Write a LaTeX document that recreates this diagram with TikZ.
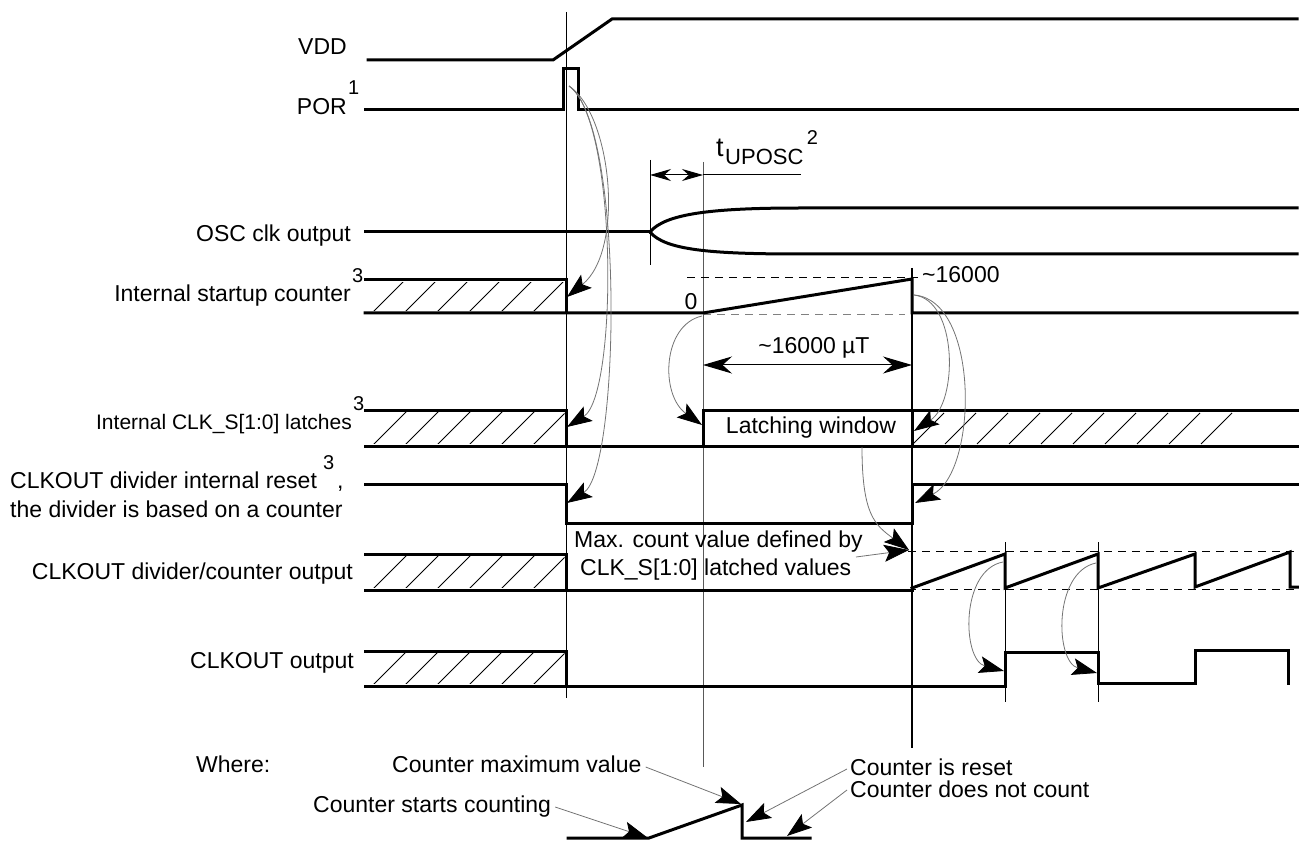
\documentclass[tikz,border=0pt]{standalone}
\usepackage{fontspec}
\setmainfont{Liberation Sans}
\usetikzlibrary{arrows.meta}
\newcommand{\hatchleft}[2]{%
  \begin{scope}
    \clip (365,#1+2.5) rectangle (564.5,#2-2.5);
    \foreach \xx in {372,404,...,565} { \draw[hat] (\xx,#2) -- ++(#2-#1,#1-#2); }
  \end{scope}}
\begin{document}
\begin{tikzpicture}[x=1pt,y=-1pt,
  sig/.style={line width=3pt, line join=miter, line cap=rect},
  refl/.style={line width=1pt},
  grefl/.style={line width=1pt, draw=black!65},
  dsh/.style={line width=1pt, dash pattern=on 8pt off 6pt},
  gdsh/.style={line width=1pt, draw=black!50, dash pattern=on 8pt off 6pt},
  hat/.style={line width=1pt},
  garrow/.style={draw=black!55, line width=0.8pt, -{Stealth[length=25pt,width=17pt,inset=5pt,color=black]}},
  lbl/.style={font=\fontsize{23}{27}\selectfont, inner sep=0pt},
  lbls/.style={font=\fontsize{21}{25}\selectfont, inner sep=0pt},
  supl/.style={font=\fontsize{20}{24}\selectfont, inner sep=0pt},
]
\useasboundingbox (0,0) rectangle (1299,842);

% ---------- reference verticals ----------
\draw[refl] (566,12) -- (566,698);
\draw[grefl] (703,162) -- (703,767);
\draw[line width=2pt] (912,268) -- (912,748);
\draw[refl] (650,160) -- (650,265);
\draw[refl] (1005,542) -- (1005,702);
\draw[refl] (1098,542) -- (1098,702);

% ---------- dashed guides ----------
\draw[dsh] (687,278) -- (918,278);
\draw[gdsh] (703,315) -- (905,315);
\draw[dsh] (908,551) -- (1299,551);
\draw[dsh] (908,589) -- (1299,589);

% ---------- hatching ----------
\hatchleft{280}{313}
\hatchleft{410}{446}
\hatchleft{554}{590}
\hatchleft{651}{686}
\foreach \xx in {913,945,...,1205} { \draw[hat] (\xx,444) -- ++(31,-31); }

% ---------- signals ----------
% VDD
\draw[sig] (368,60) -- (553,60) -- (612,19) -- (1297,19);
% POR
\draw[sig] (365,110) -- (563,110) -- (563,69) -- (578,69) -- (578,110) -- (1297,110);
% OSC clk output
\draw[sig] (365,232) -- (650,232);
\draw[sig] (650,232) .. controls (665,214) and (710,208) .. (800,208) -- (1297,208);
\draw[sig] (650,232) .. controls (665,250) and (710,254) .. (800,254) -- (1297,254);
% Internal startup counter
\draw[sig] (365,280) -- (566,280) -- (566,313);
\draw[sig] (365,313) -- (703,313) -- (912,279) -- (912,313) -- (1297,313);
% Internal CLK_S latches
\draw[sig] (365,410) -- (566,410) -- (566,446);
\draw[sig] (365,446) -- (1297,446);
\draw[sig] (703,446) -- (703,410) -- (1297,410);
\draw[sig] (912,410) -- (912,446);
% CLKOUT divider internal reset
\draw[sig] (365,484) -- (566,484) -- (566,523) -- (912,523) -- (912,484) -- (1297,484);
% CLKOUT divider/counter output
\draw[sig] (365,554) -- (566,554) -- (566,590);
\draw[sig] (365,590) -- (912,590);
\draw[sig] (912,588) -- (1005,554) -- (1005,588) -- (1098,554) -- (1098,588)
  -- (1195,554) -- (1195,587) -- (1290,552) -- (1290,587) -- (1298,587);
% CLKOUT output
\draw[sig] (365,651) -- (566,651) -- (566,686);
\draw[sig] (365,686) -- (1005,686) -- (1005,652) -- (1098,652) -- (1098,683)
  -- (1195,683) -- (1195,650) -- (1288,650) -- (1288,683);

% ---------- legend waveform ----------
\draw[sig] (568,838) -- (649,838) -- (742,805) -- (742,838) -- (810,838);

% ---------- left labels ----------
\node[lbl, anchor=base east] (tVDD) at (347,55) {VDD};
\node[lbl, anchor=base east] (tPOR) at (347,115) {POR};
\node[supl, anchor=base west] (sPOR) at (348,95) {1};
\node[lbl, anchor=base east] (tOSC) at (351,242) {OSC clk output};
\node[lbl, anchor=base east] (tISC) at (351,302) {Internal startup counter};
\node[supl, anchor=base west] (sISC) at (352,283) {3};
\node[lbls, anchor=base east] (tLAT) at (352,429) {Internal CLK\_S[1:0] latches};
\node[supl, anchor=base west] (sLAT) at (353,410) {3};
\node[lbl, anchor=base west] (tRST) at (10,488) {CLKOUT divider internal reset};
\node[supl, anchor=base west] (sRST) at (323,469) {3};
\node[lbl, anchor=base west] (cRST) at (337,488) {,};
\node[lbl, anchor=base west] (tRST2) at (10,517) {the divider is based on a counter};
\node[lbl, anchor=base east] (tDIV) at (353,579) {CLKOUT divider/counter output};
\node[lbl, anchor=base east] (tOUT) at (354,668) {CLKOUT output};

% ---------- inner labels ----------
\node[font=\fontsize{27}{30}\selectfont, inner sep=0pt, anchor=base west] (tUPt) at (716,157) {t};
\node[font=\fontsize{22}{24}\selectfont, inner sep=0pt, anchor=base west] (tUPs) at (725,165) {UPOSC};
\node[supl, anchor=base west] (tUP2) at (tUPs.base east) [xshift=3pt, yshift=20pt] {2};
\node[lbl, anchor=base] (zero) at (691,310) {0};
\node[lbl, anchor=base west] (top16) at (922,283) {\textasciitilde 16000};
\node[lbl, anchor=base] (dur) at (814,354) {\textasciitilde 16000 µT};
\node[lbl, anchor=base] (latw) at (811,433) {Latching window};
\node[lbl, anchor=base west] (maxa) at (574,547) {Max. count value defined by};
\node[lbl, anchor=base west] (maxb) at (580,575) {CLK\_S[1:0] latched values};

% ---------- legend labels ----------
\node[lbl, anchor=base west] (where) at (196,772) {Where:};
\node[lbl, anchor=base west] (cmax) at (392,772) {Counter maximum value};
\node[lbl, anchor=base west] (cstart) at (313,812) {Counter starts counting};
\node[lbl, anchor=base west] (creset) at (850,775) {Counter is reset};
\node[lbl, anchor=base west] (cnot) at (850,797) {Counter does not count};

% ---------- dimension arrows ----------
\coordinate (uA) at (650,175);
\coordinate (uB) at (703,175);
\coordinate (uC) at (801,175);
\draw[refl, {Stealth[length=21pt,width=12pt]}-{Stealth[length=21pt,width=12pt]}] (uA) -- (uB);
\draw[refl] (uB) -- (uC);
\coordinate (dA) at (703,365);
\coordinate (dB) at (912,365);
\draw[refl, {Stealth[length=29pt,width=17pt]}-{Stealth[length=29pt,width=17pt]}] (dA) -- (dB);

% ---------- causal arrows ----------
\coordinate (porP) at (569,86);
\coordinate (iscE) at (567,297);
\coordinate (latE) at (567,427);
\coordinate (rstE) at (567,503);
\draw[garrow] (porP) .. controls (612,115) and (625,250) .. (iscE);
\draw[garrow] (porP) .. controls (618,120) and (618,395) .. (latE);
\draw[garrow] (porP) .. controls (625,125) and (620,470) .. (rstE);

\coordinate (zeroP) at (702,316);
\coordinate (latR) at (702,425);
\draw[garrow] (zeroP) .. controls (662,325) and (660,395) .. (latR);

\coordinate (topP) at (914,295);
\coordinate (latF) at (914,431);
\coordinate (rstR) at (915,503);
\draw[garrow] (topP) .. controls (958,300) and (958,402) .. (latF);
\draw[garrow] (topP) .. controls (980,300) and (978,472) .. (rstR);

\coordinate (lwP) at (862,447);
\coordinate (maxP) at (909,550);
\coordinate (byP) at (856,557);
\draw[garrow] (lwP) .. controls (862,515) and (875,525) .. (maxP);
\draw[garrow] (byP) -- (maxP);

\coordinate (sw1) at (1003,562);
\coordinate (co1) at (1004,671);
\coordinate (sw2) at (1096,563);
\coordinate (co2) at (1097,673);
\draw[garrow] (sw1) .. controls (960,570) and (962,660) .. (co1);
\draw[garrow] (sw2) .. controls (1053,572) and (1055,662) .. (co2);

% ---------- legend arrows ----------
\coordinate (lgMax) at (741,804);
\coordinate (lgStart) at (648,838);
\coordinate (lgReset) at (746,822);
\coordinate (lgNot) at (787,836);
\draw[garrow] (cmax.east |- 0,767) ++(4,0) -- (lgMax);
\draw[garrow] (cstart.east |- 0,807) ++(4,0) -- (lgStart);
\draw[garrow] (creset.west |- 0,769) ++(-3,0) -- (lgReset);
\draw[garrow] (cnot.west |- 0,790) ++(-3,0) -- (lgNot);
\end{tikzpicture}
\end{document}
